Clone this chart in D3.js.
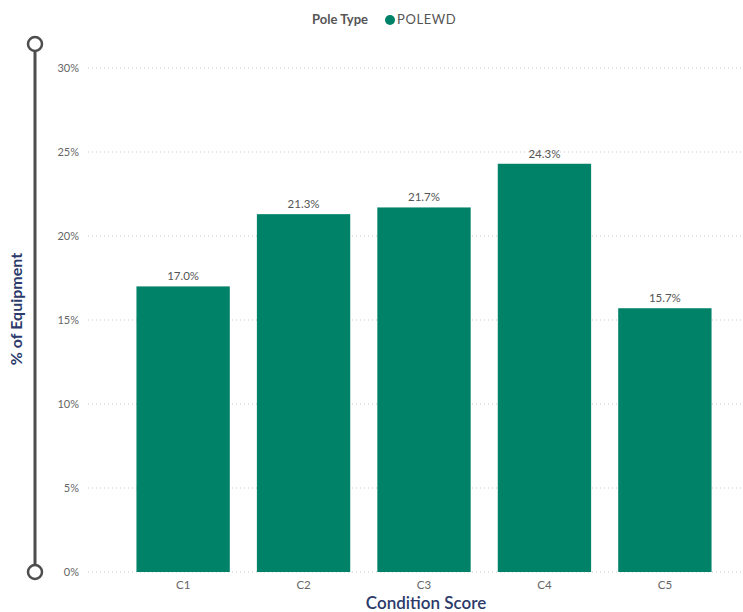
<!DOCTYPE html>
<html>
<head>
<meta charset="utf-8">
<script src="https://cdn.jsdelivr.net/npm/d3@7"></script>
<style>
  html, body { margin: 0; padding: 0; background: #fff; }
  svg { display: block; font-family: "Lato", "Open Sans", sans-serif; }
</style>
</head>
<body>
<svg id="chart" width="743" height="612"></svg>
<script>
// Share of poles by condition score
const categories = ["C1", "C2", "C3", "C4", "C5"];
const values = [17.0, 21.3, 21.7, 24.3, 15.7];
const yTicks = [0, 5, 10, 15, 20, 25, 30];
const legendTitle = "Pole Type";
const seriesName = "POLEWD";

const svg = d3.select("#chart");
const barColor = "#008268";

const x = d3.scaleBand().domain(categories).range([122, 726]).paddingInner(0.225).paddingOuter(0.12);
const y = d3.scaleLinear().domain([0, 30]).range([572, 68]);

// gridlines
svg.append("g").selectAll("line").data(yTicks).join("line")
  .attr("x1", 88).attr("x2", 741)
  .attr("y1", d => y(d)).attr("y2", d => y(d))
  .attr("stroke", "#c8c8c8").attr("stroke-width", 1).attr("stroke-dasharray", "1,3");

// y axis tick labels
const yAxis = d3.axisLeft(y).tickValues(yTicks).tickFormat(d => d + "%").tickSize(0).tickPadding(0);
const gy = svg.append("g").attr("transform", "translate(79,0)").call(yAxis);
gy.select(".domain").remove();
gy.selectAll("text").attr("fill", "#666").attr("font-size", 11).attr("font-family", "Lato, sans-serif");

// bars
svg.append("g").selectAll("rect").data(categories).join("rect")
  .attr("x", d => x(d)).attr("width", x.bandwidth())
  .attr("y", (d, i) => y(values[i])).attr("height", (d, i) => y(0) - y(values[i]))
  .attr("fill", barColor);

// value labels
svg.append("g").selectAll("text").data(categories).join("text")
  .attr("x", d => x(d) + x.bandwidth() / 2)
  .attr("y", (d, i) => y(values[i]) - 6)
  .attr("text-anchor", "middle").attr("fill", "#555").attr("font-size", 11.5)
  .text((d, i) => values[i].toFixed(1) + "%");

// x axis
const xAxis = d3.axisBottom(x).tickSize(0).tickPadding(9);
const gx = svg.append("g").attr("transform", "translate(0,572)").call(xAxis);
gx.select(".domain").remove();
gx.selectAll("text").attr("fill", "#666").attr("font-size", 11.5).attr("font-family", "Lato, sans-serif");

// axis titles
svg.append("text").attr("x", 426).attr("y", 609).attr("text-anchor", "middle")
  .attr("fill", "#2b3a6b").attr("font-size", 17).attr("font-weight", 600).text("Condition Score");
svg.append("text").attr("transform", "translate(22,309) rotate(-90)").attr("text-anchor", "middle")
  .attr("fill", "#2b3a6b").attr("font-size", 16).attr("font-weight", "bold").text("% of Equipment");

// range slider on the left
const slider = svg.append("g");
slider.append("line").attr("x1", 35).attr("x2", 35).attr("y1", y(30) - 24).attr("y2", y(0))
  .attr("stroke", "#4d4d4d").attr("stroke-width", 3);
[y(30) - 24, y(0)].forEach(cy => {
  slider.append("circle").attr("cx", 35).attr("cy", cy).attr("r", 7)
    .attr("fill", "#fff").attr("stroke", "#4d4d4d").attr("stroke-width", 2.5);
});

// legend
const lg = svg.append("g").attr("transform", "translate(312,24)");
lg.append("text").attr("x", 0).attr("y", 0).attr("fill", "#555").attr("font-size", 13)
  .attr("font-weight", "bold").text(legendTitle);
lg.append("circle").attr("cx", 78).attr("cy", -4).attr("r", 5).attr("fill", barColor);
lg.append("text").attr("x", 85).attr("y", 0).attr("fill", "#555").attr("font-size", 13)
  .attr("letter-spacing", 0.6).text(seriesName);
</script>
</body>
</html>
